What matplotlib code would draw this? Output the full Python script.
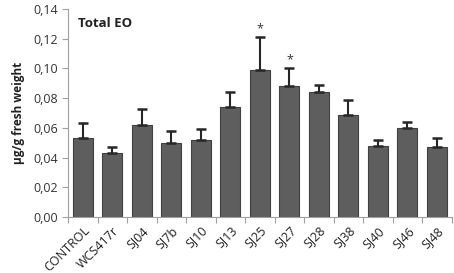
import numpy as np
import matplotlib.pyplot as plt

strains = ["CONTROL", "WCS417r", "SJ04", "SJ7b", "SJ10", "SJ13", "SJ25",
           "SJ27", "SJ28", "SJ38", "SJ40", "SJ46", "SJ48"]
eo_mean = [0.053, 0.043, 0.062, 0.050, 0.052, 0.074, 0.099,
           0.088, 0.084, 0.069, 0.048, 0.060, 0.047]
eo_err = [0.010, 0.004, 0.011, 0.008, 0.007, 0.010, 0.022,
          0.012, 0.005, 0.010, 0.004, 0.004, 0.006]
significant = ["SJ25", "SJ27"]

plt.rcParams['font.family'] = ['Open Sans', 'DejaVu Sans']

fig = plt.figure(figsize=(4.54, 2.73), dpi=100)
ax = fig.add_axes([0.15, 0.205, 0.845, 0.762])

x = np.arange(len(strains))
ax.bar(x, eo_mean, width=0.68, color='#5e5e5e', edgecolor='#404040', linewidth=0.8)
ax.errorbar(x, eo_mean, yerr=[np.zeros(len(eo_err)), eo_err], fmt='none',
            ecolor='#262626', elinewidth=1.5, capsize=3.5, capthick=1.8)

for name in significant:
    i = strains.index(name)
    ax.text(i, eo_mean[i] + eo_err[i] + 0.0015, "*", ha='center', va='bottom',
            fontsize=9, color='#333333')

ax.set_xlim(-0.5, len(strains) - 0.5)
ax.set_ylim(0, 0.14)
ax.set_yticks(np.arange(0, 0.141, 0.02))
ax.set_yticklabels([f"{v:.2f}".replace('.', ',') for v in np.arange(0, 0.141, 0.02)],
                   fontsize=9, color='#333333')

# category boundary ticks like Excel
ax.set_xticks(np.arange(-0.5, len(strains), 1.0))
ax.set_xticklabels([])
ax.set_xticks(x, minor=True)
ax.set_xticklabels(strains, minor=True, rotation=45, ha='right', rotation_mode='anchor',
                   fontsize=9, color='#222222')
ax.tick_params(axis='x', which='minor', length=0, pad=5)
ax.tick_params(axis='x', which='major', length=4, color='#a0a0a0', direction='out')
ax.tick_params(axis='y', length=4, color='#a0a0a0', direction='out', pad=3)

for s in ['top', 'right']:
    ax.spines[s].set_visible(False)
for s in ['left', 'bottom']:
    ax.spines[s].set_color('#a0a0a0')

ax.set_ylabel("µg/g fresh weight", fontsize=8.5, fontweight='bold', color='#222222',
              labelpad=6)
ax.text(0.025, 0.93, "Total EO", transform=ax.transAxes, fontsize=9.5,
        fontweight='bold', color='#222222', va='center')

fig.savefig("out.png", dpi=100)
